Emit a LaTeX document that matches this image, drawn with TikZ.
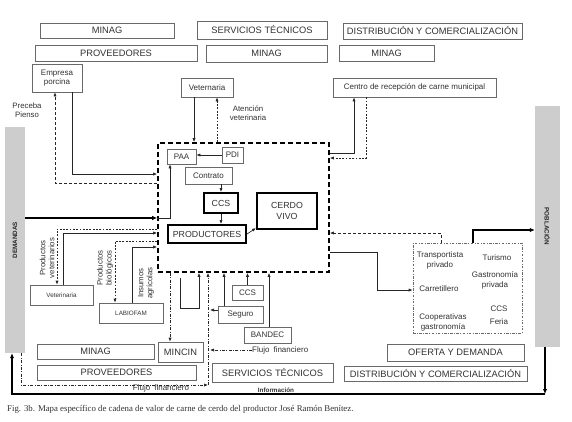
\documentclass[tikz,border=0pt]{standalone}
\usepackage{fontspec}
\setmainfont{Liberation Sans}
\newfontfamily\capfont{Liberation Serif}
\usetikzlibrary{arrows.meta}
\definecolor{bordergray}{RGB}{105,105,105}
\definecolor{txtgray}{RGB}{50,50,50}
\definecolor{barfill}{RGB}{205,205,205}
\begin{document}
\begin{tikzpicture}[x=1pt,y=-1pt,
  box/.style={draw=bordergray, line width=0.7pt, inner sep=0pt, text=txtgray, align=center, font=\fontsize{9.3}{10.5}\selectfont},
  sbox/.style={box, font=\fontsize{8}{9}\selectfont},
  tbox/.style={box, font=\fontsize{6.3}{7.5}\selectfont},
  thickbox/.style={draw=black, line width=2pt, inner sep=0pt, text=txtgray, align=center, font=\fontsize{8.8}{10.5}\selectfont},
  mainbox/.style={draw=black, line width=1.6pt, dash pattern=on 5pt off 3pt, inner sep=0pt},
  outletbox/.style={draw=bordergray, line width=0.7pt, dash pattern=on 2.5pt off 1.5pt on 0.7pt off 1.5pt, inner sep=0pt},
  bar/.style={fill=barfill, draw=none, inner sep=0pt},
  bartext/.style={font=\bfseries\fontsize{6.3}{7}\selectfont, text=black!85, inner sep=0pt},
  lbl/.style={text=txtgray, align=center, font=\fontsize{7.8}{9}\selectfont, inner sep=0pt},
  olbl/.style={lbl, font=\fontsize{8}{10}\selectfont},
  conn/.style={-{Latex[length=4pt,width=3.2pt]}, draw=black!85, line width=0.7pt},
  dotconn/.style={conn, dash pattern=on 1.8pt off 1.5pt},
  dashconn/.style={conn, dash pattern=on 3pt off 2pt},
  ddconn/.style={conn, dash pattern=on 3pt off 1.5pt on 0.8pt off 1.5pt},
  thickconn/.style={-{Latex[length=5pt,width=4.5pt]}, draw=black, line width=1.5pt},
]
\fill[white] (0,0) rectangle (572,421);
\useasboundingbox (0,0) rectangle (572,421);

% helper coordinates
\foreach \c in {194,217,72,55,170,354,366,441,377,473,57,63,115,132,180,199,208,210,224,269,21,545,12}
  {\coordinate (X\c) at (\c,0);}
\foreach \r in {174,183,218,153,158,233,252,290,230,229,241,247,278,308,385,310,394}
  {\coordinate (Y\r) at (0,\r);}

% top boxes
\node[box, minimum width=134, minimum height=15] (minag1) at (107,30.5) {MINAG};
\node[box, minimum width=130, minimum height=18] (serv1) at (262,30) {SERVICIOS TÉCNICOS};
\node[box, minimum width=179, minimum height=16] (dist1) at (432.5,31) {DISTRIBUCIÓN Y COMERCIALIZACIÓN};
\node[box, minimum width=162, minimum height=16] (prov1) at (116,53) {PROVEEDORES};
\node[box, minimum width=121, minimum height=17] (minag2) at (266.5,53.5) {MINAG};
\node[box, minimum width=95, minimum height=16] (minag3) at (386.5,53) {MINAG};
\node[sbox, minimum width=50, minimum height=28] (empresa) at (57,78) {Empresa\\porcina};
\node[sbox, minimum width=52, minimum height=19] (vet1) at (207,87.5) {Veternaria};
\node[sbox, minimum width=163, minimum height=19] (centro) at (414.5,87.5) {Centro de recepción de carne municipal};

% bars
\node[bar, minimum width=20, minimum height=226] (dem) at (15,240) {};
\node[bartext, rotate=90] (demtxt) at (dem.center) {DEMANDAS};
\node[bar, minimum width=25, minimum height=241] (pob) at (547.5,226.5) {};
\node[bartext, rotate=-90] (pobtxt) at (pob.center) {POBLACIÓN};

% main box and inner
\node[mainbox, minimum width=171, minimum height=129] (main) at (243.5,207.5) {};
\node[sbox, minimum width=29, minimum height=15] (paa) at (181.5,156.5) {PAA};
\node[sbox, minimum width=21, minimum height=16] (pdi) at (232.5,155) {PDI};
\node[sbox, minimum width=47, minimum height=17] (contrato) at (208.5,175.5) {Contrato};
\node[thickbox, minimum width=34, minimum height=20] (ccs1) at (221,203) {CCS};
\node[thickbox, minimum width=78, minimum height=18] (prod) at (207,234) {PRODUCTORES};
\node[thickbox, minimum width=60, minimum height=36] (cerdo) at (287,211) {CERDO\\VIVO};

% lower left
\node[tbox, minimum width=63, minimum height=20] (vet2) at (61.5,295) {Veterinaria};
\node[tbox, minimum width=64, minimum height=20] (lab) at (131,313) {LABIOFAM};

% bottom boxes
\node[box, minimum width=45, minimum height=20] (mincin) at (180.5,352) {MINCIN};
\node[box, minimum width=117, minimum height=15] (minag4) at (95.5,351.5) {MINAG};
\node[box, minimum width=159, minimum height=15] (prov2) at (116.5,372.5) {PROVEEDORES};
\node[box, minimum width=121, minimum height=19] (serv2) at (272.5,372.5) {SERVICIOS TÉCNICOS};
\node[sbox, minimum width=31, minimum height=15] (ccs2) at (247.5,292.5) {CCS};
\node[sbox, minimum width=45, minimum height=17] (seg) at (240.5,314.5) {Seguro};
\node[sbox, minimum width=47, minimum height=16] (bandec) at (267.5,335) {BANDEC};
\node[box, minimum width=137, minimum height=17] (oferta) at (455.5,352.5) {OFERTA Y DEMANDA};
\node[box, minimum width=183, minimum height=15] (dist2) at (435.5,373.5) {DISTRIBUCIÓN Y COMERCIALIZACIÓN};

% outlet box
\node[outletbox, minimum width=109, minimum height=90] (outlet) at (467.5,288) {};
\node[olbl] (transp) at (440,260) {Transportista\\privado};
\node[olbl] (turismo) at (497,258) {Turismo};
\node[olbl] (gastro) at (495,280.5) {Gastronomía\\privada};
\node[olbl] (carret) at (439,289) {Carretillero};
\node[olbl] (ccs3) at (499,309) {CCS};
\node[olbl] (coop) at (443,322) {Cooperativas\\gastronomía};
\node[olbl] (feria) at (499,322) {Feria};

% labels
\node[lbl] (preceba) at (27,110.5) {Preceba\\Pienso};
\node[lbl] (atencion) at (248,113.5) {Atención\\veterinaria};
\node[lbl, rotate=90] (provet) at (47,258) {Productos\\veterinarios};
\node[lbl, rotate=90] (probio) at (105,268) {Productos\\biológicos};
\node[lbl, rotate=90] (insumos) at (146,283) {Insumos\\agrícolas};
\node[olbl, anchor=west] (ff1) at (252,350) {Flujo\enspace financiero};
\node[olbl] (ff2) at (161,388) {Flujo\enspace financiero};
\node[lbl, font=\bfseries\fontsize{6.3}{7}\selectfont] (info) at (276,390) {Información};
\node[anchor=west, inner sep=0pt, text=txtgray, font=\capfont\fontsize{8.8}{10}\selectfont] (cap) at (7,409)
  {Fig. 3b. Mapa específico de cadena de valor de carne de cerdo del productor José Ramón Benítez.};

% top connectors
\draw[conn] (vet1.south -| X194) -- (main.north -| X194);
\draw[dotconn] (main.north -| X217) -- (vet1.south -| X217);
\draw[conn] (empresa.south -| X72) -- (X72 |- Y174) -- (main.west |- Y174);
\draw[dashconn] (main.west |- Y183) -- (X55 |- Y183) -- (empresa.south -| X55);
\draw[thickconn] (dem.east |- Y218) -- (main.west |- Y218);
\draw[conn] (main.west |- Y218) -- (X170 |- Y218) -- (paa.south -| X170);

% inner connectors
\draw[conn] (pdi.west) -- (paa.east |- pdi.west);
\draw[conn] (contrato.south -| ccs1.north) -- (ccs1.north);
\draw[conn] (ccs1.south) -- (prod.north -| ccs1.south);
\draw[conn] (prod.east) -- ([yshift=2pt]cerdo.south west);

% right connectors
\draw[conn] (main.east |- Y153) -- (X354 |- Y153) -- (centro.south -| X354);
\draw[dotconn] (centro.south -| X366) -- (X366 |- Y158) -- (main.east |- Y158);
\draw[dashconn] (outlet.north -| X441) -- (X441 |- Y233) -- (main.east |- Y233);
\draw[conn] (main.east |- Y252) -- (X377 |- Y252) -- (X377 |- Y290) -- (outlet.west |- Y290);
\draw[thickconn] (outlet.north -| X473) -- (X473 |- Y230) -- (pob.west |- Y230);

% left lower connectors
\draw[dotconn] (main.west |- Y229) -- (X57 |- Y229) -- (vet2.north -| X57);
\draw[conn] (vet2.north -| X63) -- (X63 |- Y233) -- (main.west |- Y233);
\draw[dotconn] (main.west |- Y241) -- (X115 |- Y241) -- (lab.north -| X115);
\draw[conn] (lab.north -| X132) -- (X132 |- Y247) -- (main.west |- Y247);

% bottom connectors
\draw[ddconn] (main.south -| X170) -- (mincin.north -| X170);
\draw[conn] (X180 |- Y278) -- (X180 |- Y308) -- (X199 |- Y308) -- (main.south -| X199);
\draw[ddconn] (X208 |- Y385) -- (main.south -| X208);
\draw[conn] (seg.west |- Y310) -- (X210 |- Y310);
\draw[conn] (seg.north -| X224) -- (main.south -| X224);
\draw[conn] (ccs2.north) -- (main.south -| ccs2.north);
\draw[conn] (bandec.north -| X269) -- (main.south -| X269);
\draw[ddconn] (ff1.west) -- (X210 |- ff1.west);
\draw[ddconn] (dem.south -| X21) -- (X21 |- Y385) -- (X208 |- Y385);

% information loop
\draw[thickconn] (pob.south -| X545) -- (X545 |- Y394);
\draw[thickconn] (X545 |- Y394) -- (X12 |- Y394) -- (dem.south -| X12);
\end{tikzpicture}
\end{document}
